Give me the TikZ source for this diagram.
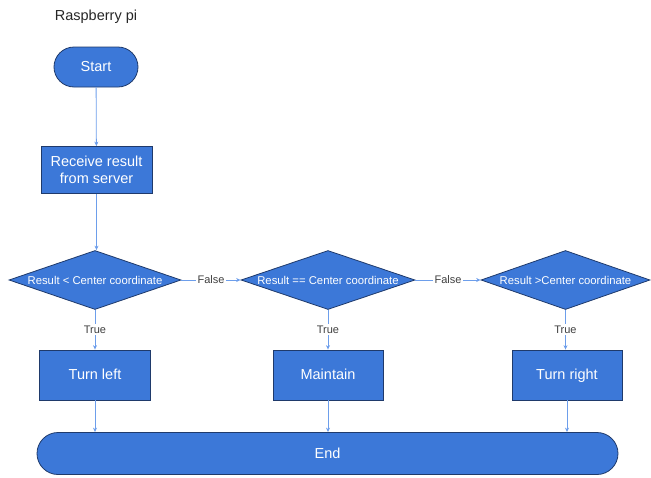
\documentclass[tikz,border=0pt]{standalone}
\usepackage{fontspec}
\setmainfont{Liberation Sans}
\usetikzlibrary{shapes.geometric,arrows.meta}
\definecolor{boxfill}{HTML}{3C78D8}
\definecolor{boxline}{HTML}{1F3A6B}
\definecolor{flowline}{HTML}{6D9EEB}
\begin{document}
\begin{tikzpicture}[x=1pt,y=-1pt,
  every node/.style={font=\fontsize{14.5}{17}\selectfont},
  pill/.style={draw=boxline,line width=0.8pt,fill=boxfill,text=white,rectangle,rounded corners=20pt,inner sep=0pt},
  procbox/.style={draw=boxline,line width=0.8pt,fill=boxfill,text=white,rectangle,inner sep=0pt,align=center},
  oneline/.style={text height=12.5pt,text depth=3pt},
  decision/.style={draw=boxline,line width=0.8pt,fill=boxfill,text=white,diamond,shape aspect=2.95,inner sep=0pt,
    minimum width=172pt,minimum height=59pt,font=\fontsize{11.3}{13}\selectfont},
  flow/.style={draw=flowline,line width=0.8pt,-{Stealth[length=4.5pt,width=4pt]}},
  lbl/.style={fill=white,text=black!75,inner sep=1.5pt,font=\fontsize{11}{12}\selectfont}]
\useasboundingbox (0,0) rectangle (651,477);

\node[text=black!85] (title) at (96,17) {Raspberry pi};

\node[pill,minimum width=84pt,minimum height=40pt] (start) at (96,67) {Start};
\node[procbox,minimum width=111pt,minimum height=47pt] (recv) at (96.5,170) {Receive result\\from server};

\node[decision] (d1) at (95,280) {Result < Center coordinate};
\node[decision,minimum width=174pt] (d2) at (328,280) {Result == Center coordinate};
\node[decision,minimum width=169pt] (d3) at (565.5,280) {Result >Center coordinate};

\node[procbox,oneline,minimum width=111pt,minimum height=50pt] (left) at (95,375) {Turn left};
\node[procbox,oneline,minimum width=110pt,minimum height=50pt] (keep) at (328,375) {Maintain};
\node[procbox,oneline,minimum width=110pt,minimum height=50pt] (right) at (567,375) {Turn right};

\node[pill,minimum width=581pt,minimum height=42pt,rounded corners=21pt] (end) at (327.5,453.5) {End};

\draw[flow] (start) -- (recv);
\draw[flow] (recv.south) -- (recv.south |- d1.north);
\draw[flow] (d1.east) -- node[lbl] {False} (d2.west);
\draw[flow] (d2.east) -- node[lbl] {False} (d3.west);
\draw[flow] (d1.south) -- node[lbl] {True} (d1.south |- left.north);
\draw[flow] (d2.south) -- node[lbl] {True} (d2.south |- keep.north);
\draw[flow] (d3.south) -- node[lbl] {True} (d3.south |- right.north);
\draw[flow] (left.south) -- (left.south |- end.north);
\draw[flow] (keep.south) -- (keep.south |- end.north);
\draw[flow] (right.south) -- (right.south |- end.north);
\end{tikzpicture}
\end{document}
